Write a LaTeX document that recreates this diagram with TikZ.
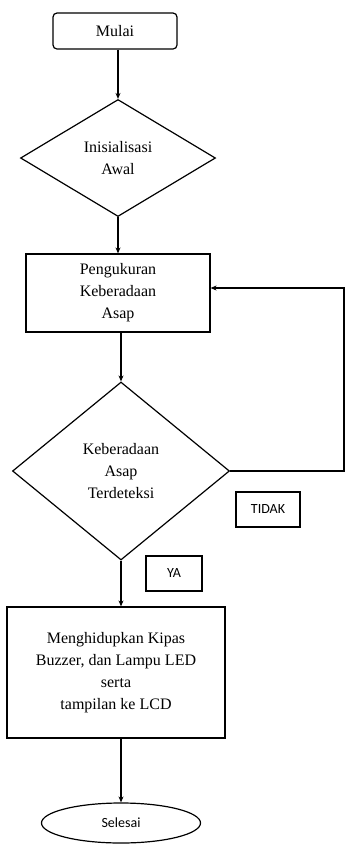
\documentclass[tikz,border=0pt]{standalone}
\usepackage{fontspec}
\setmainfont{Liberation Serif}
\newfontfamily\labelfont{Carlito}
\usetikzlibrary{shapes.geometric,arrows.meta}

\begin{document}
\begin{tikzpicture}[x=1pt,y=-1pt,line width=1.2pt,
                    >={Stealth[length=6pt,width=5pt]},
                    txt/.style={font=\fontsize{16}{22}\selectfont,align=center},
                    startbox/.style={txt,draw,rounded corners=4pt,inner sep=0pt},
                    procbox/.style={txt,draw,inner sep=0pt},
                    decbox/.style={txt,draw,diamond,inner sep=0pt},
                    tagbox/.style={draw,font=\labelfont\fontsize{14}{16}\selectfont,inner sep=0pt}]
                    \useasboundingbox (0,0) rectangle (345,844);

                    \node[startbox,minimum width=124pt,minimum height=36pt] (mulai) at (115,31) {Mulai};
                    \node[decbox,minimum width=195pt,minimum height=117pt] (init) at (118,158) {Inisialisasi\\Awal};
                    \node[procbox,minimum width=184pt,minimum height=78pt] (ukur) at (118,293) {Pengukuran\\Keberadaan\\Asap};
                    \node[decbox,minimum width=217pt,minimum height=178pt] (deteksi) at (121,471) {Keberadaan\\Asap\\Terdeteksi};
                    \node[tagbox,minimum width=64pt,minimum height=35pt] (tidak) at (268,509.5) {TIDAK};
                    \node[tagbox,minimum width=56pt,minimum height=35pt] (ya) at (174,573.5) {YA};
                    \node[procbox,minimum width=218pt,minimum height=131pt] (hidup) at (116,672.5) {Menghidupkan Kipas\\Buzzer, dan Lampu LED\\serta\\tampilan ke LCD};
                    \node[draw,ellipse,inner sep=0pt,minimum width=159pt,minimum height=40pt,font=\labelfont\fontsize{14}{16}\selectfont] (selesai) at (121,823) {Selesai};
                    \coordinate (kanan) at (344,288);

                    \draw [->] (init.north |- mulai.south)--(init.north);
                    \draw [->] (init.south)--(ukur.north);
                    \draw [->] (deteksi.north |- ukur.south)--(deteksi.north);
                    \draw [->] (deteksi.south)--(deteksi.south |- hidup.north);
                    \draw [->] (selesai.north |- hidup.south)--(selesai.north);
                    \draw [->] (deteksi.east) -| (kanan)--(kanan -| ukur.east);
                    \end{tikzpicture}
\end{document}
